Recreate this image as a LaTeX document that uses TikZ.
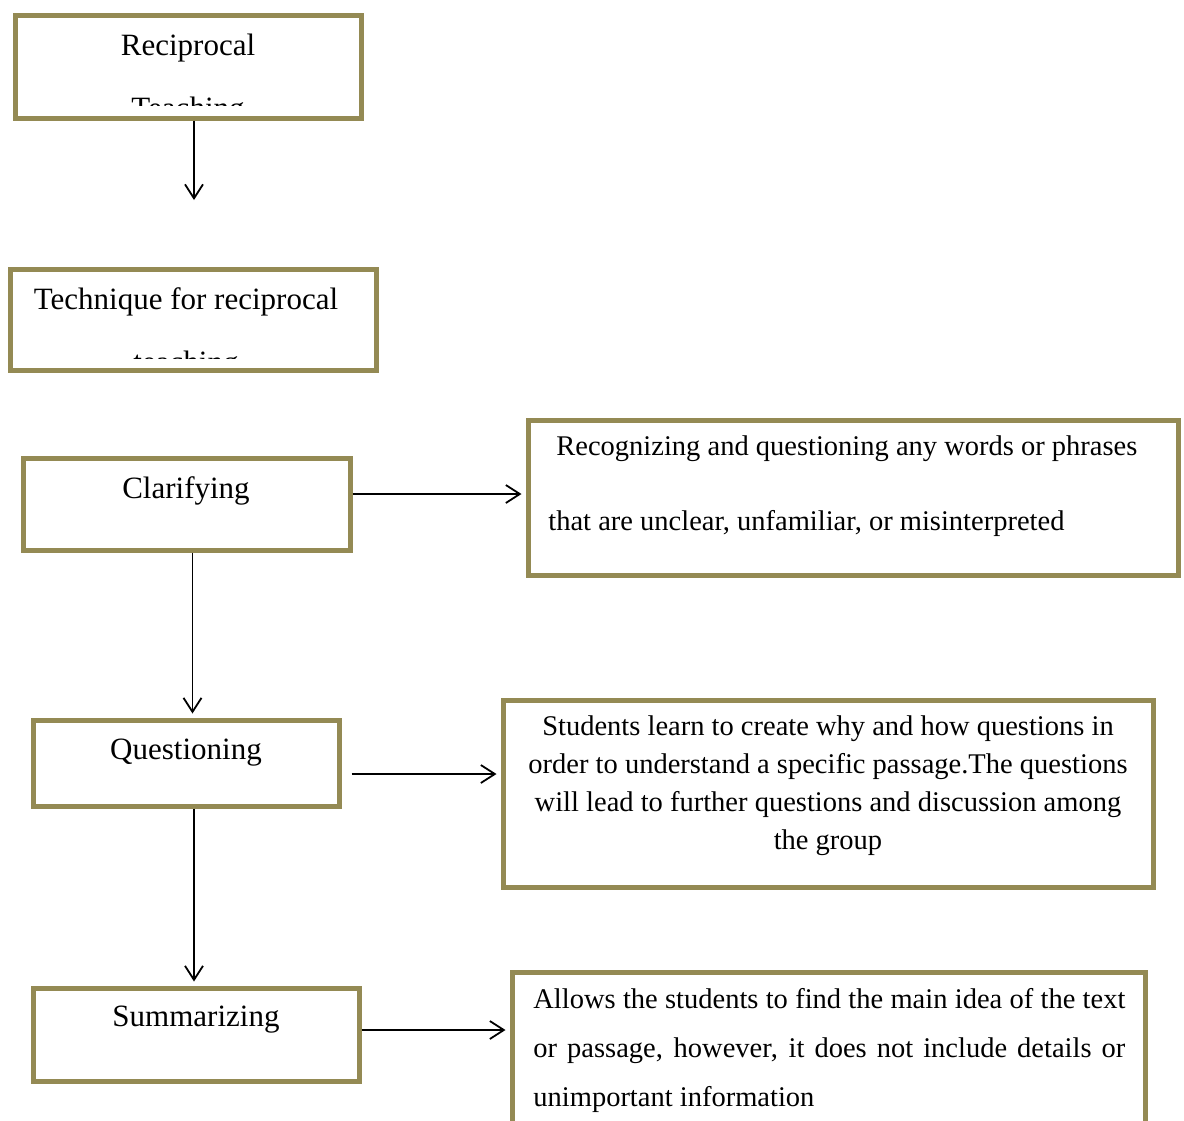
\documentclass[tikz,border=0pt]{standalone}
\usepackage{fontspec}
\setmainfont{Liberation Serif}
\usetikzlibrary{arrows.meta, positioning}
\definecolor{olivebox}{HTML}{948A54}

\begin{document}
\begin{tikzpicture}[x=0.5pt, y=-0.5pt,
    box/.style={draw=olivebox, line width=2.5pt, inner sep=0pt},
    lbl/.style={font=\fontsize{15.5}{31.5}\selectfont, inner sep=0pt, align=center},
    desc/.style={font=\fontsize{14.25}{19}\selectfont, inner sep=0pt},
    link/.style={-{Straight Barb[length=7pt, width=9pt]}, line width=0.9pt, shorten >=2pt}]
    \useasboundingbox (0,0) rectangle (1184,1120);

    % Left column of boxes
    \node[box, minimum width=173pt, minimum height=51.5pt] (recip) at (188,66.5) {};
    \node[box, minimum width=183pt, minimum height=50.5pt] (tech) at (193,319.5) {};
    \node[box, minimum width=163.5pt, minimum height=46pt] (clar) at (186.5,504) {};
    \node[box, minimum width=153pt, minimum height=43pt] (ques) at (186,763) {};
    \node[box, minimum width=163pt, minimum height=46.5pt] (summ) at (196,1034.5) {};

    % Right column of boxes
    \node[box, minimum width=325pt, minimum height=77.5pt] (recog) at (853,497.5) {};
    \node[box, minimum width=325pt, minimum height=93.5pt] (studq) at (828,793.5) {};
    \node[box, minimum width=316.5pt, minimum height=79pt] (allow) at (828.5,1051) {};

    % Titles (the second line is cut off by the box)
    \begin{scope}
        \clip (17,17) rectangle (359,105);
        \node[lbl, anchor=north] (recipT) at (188,34) {Reciprocal\\Teaching};
    \end{scope}
    \begin{scope}
        \clip (12,271) rectangle (374,358);
        \node[lbl, anchor=north] (techT) at (186,287) {Technique for reciprocal\\teaching};
    \end{scope}
    \node[lbl, anchor=north] (clarT) at (186,476) {Clarifying};
    \node[lbl, anchor=north] (quesT) at (186,739) {Questioning};
    \node[lbl, anchor=north] (summT) at (196,1006) {Summarizing};

    % Descriptions
    \node[desc, anchor=north west, align=left] (recogT) at (548,435)
        {\hspace*{4pt}Recognizing and questioning any words or phrases\\[18.5pt]that are unclear, unfamiliar, or misinterpreted};
    \node[desc, anchor=north, align=center] (studqT) at (828,715)
        {Students learn to create why and how questions in\\order to understand a specific passage.The questions\\will lead to further questions and discussion among\\the group};
    \node[desc, anchor=north west, text width=296pt, align=justify,
        font=\fontsize{14.25}{24.5}\selectfont] (allowT) at (533,988)
        {Allows the students to find the main idea of the text\linebreak or passage, however, it does not include details or\linebreak unimportant information};

    % Arrows
    \coordinate (recipEnd) at (194,200);
    \draw[link, shorten >=0pt] (recip.south -| recipEnd) -- (recipEnd);
    \draw[link] ([yshift=5pt]clar.east) coordinate (c0) -- (c0 -| recog.west);
    \draw[link] ([xshift=3pt]clar.south) coordinate (c1) -- (c1 |- ques.north);
    \draw[link] ([shift={(5pt,-5.5pt)}]ques.east) coordinate (q0) -- (q0 -| studq.west);
    \draw[link] ([xshift=4pt]ques.south) coordinate (q1) -- (q1 |- summ.north);
    \draw[link] ([yshift=2.25pt]summ.east) coordinate (s0) -- (s0 -| allow.west);
\end{tikzpicture}
\end{document}
